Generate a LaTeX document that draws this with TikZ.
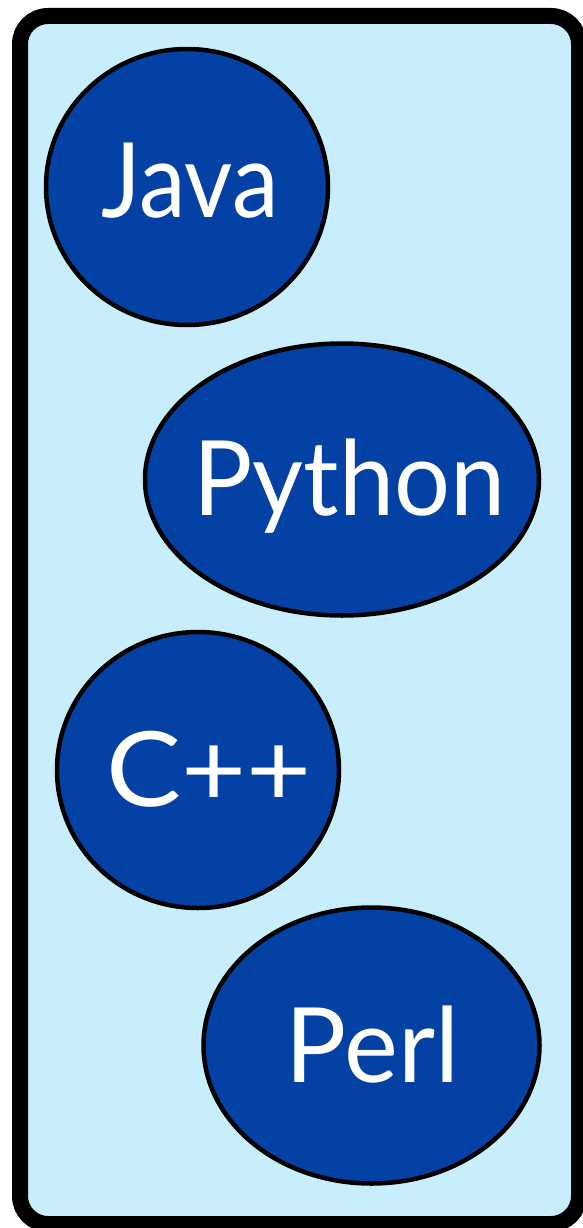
\documentclass[tikz,border=0pt]{standalone}
\usepackage{fontspec}
\setmainfont{Lato}
\definecolor{paleblue}{HTML}{C8EEFC}
\definecolor{deepblue}{HTML}{0341A5}
\begin{document}
\begin{tikzpicture}[x=1pt,y=-1pt,
  bubble/.style={draw=black,line width=4.5pt,fill=deepblue},
  lang/.style={text=white,font=\fontsize{104}{110}\selectfont,anchor=base,inner sep=0pt}]
\useasboundingbox (0,0) rectangle (582,1228);
\draw[line width=16pt,fill=paleblue,rounded corners=28pt] (20,16) rectangle (579,1224);
\draw[bubble] (187,187) ellipse [x radius=141, y radius=138];
\draw[bubble] (342,479.5) ellipse [x radius=197, y radius=136];
\draw[bubble] (198,770) ellipse [x radius=141, y radius=138];
\draw[bubble] (371.5,1045.5) ellipse [x radius=168, y radius=138];
\node[lang] (java) at (190,217) {\scalebox{0.9}[1]{Java}};
\node[lang] (python) at (349.5,515) {\scalebox{0.95}[1]{Python}};
\node[lang] (cpp) at (209,806) {\scalebox{1.08}[1]{C++}};
\node[lang] (perl) at (372.5,1082) {\scalebox{0.98}[1]{Perl}};
\end{tikzpicture}
\end{document}
